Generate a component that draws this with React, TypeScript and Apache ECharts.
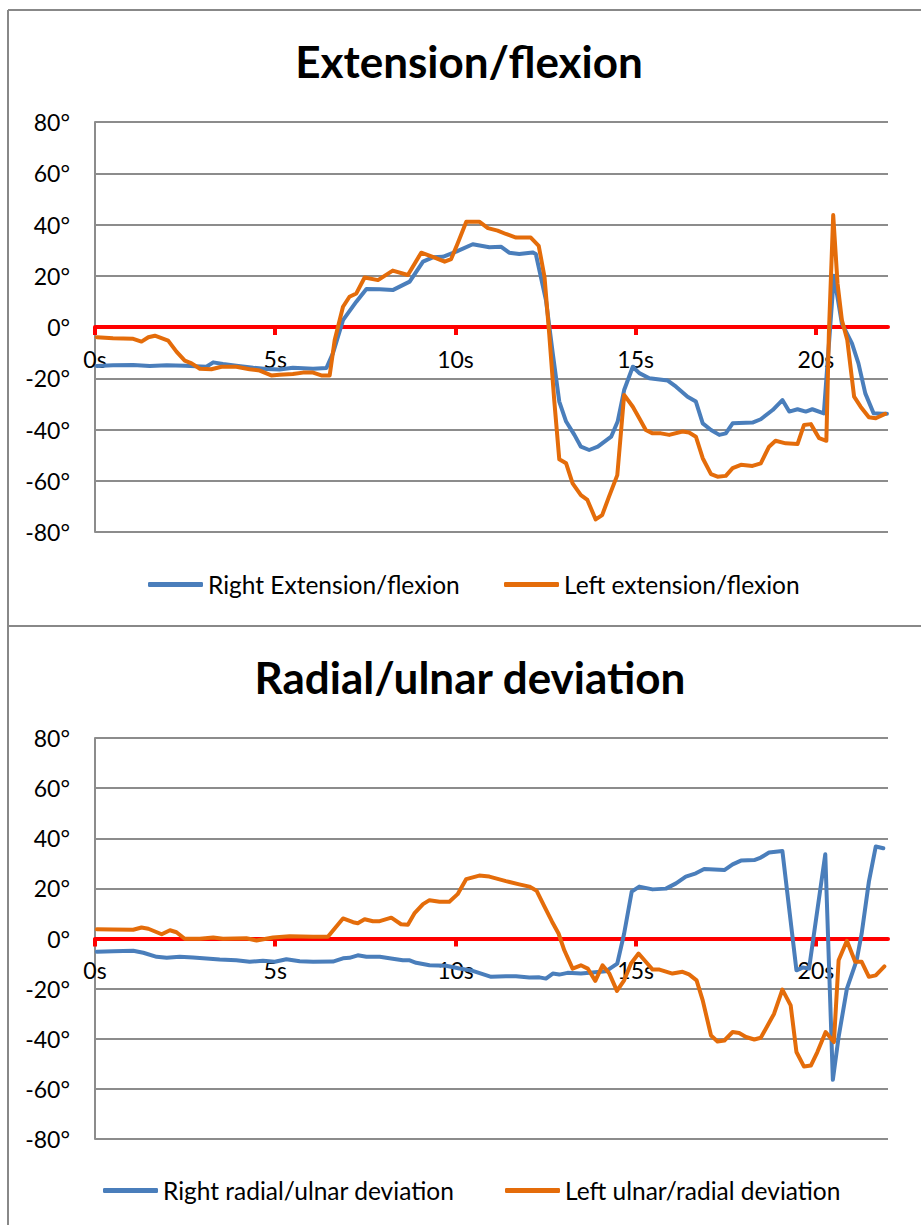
import React, { useEffect, useRef } from "react";
import * as echarts from "echarts";

// ---------- data ----------
const xTickValues = [0, 5, 10, 15, 20];

const extTitle = "Extension/flexion";
const devTitle = "Radial/ulnar deviation";

const rightExtName = "Right Extension/flexion";
const leftExtName = "Left extension/flexion";
const rightDevName = "Right radial/ulnar deviation";
const leftDevName = "Left ulnar/radial deviation";

// Right Extension/flexion (time s, angle °)
const rightExtT = [0.05, 0.5, 1.06, 1.52, 1.99, 2.5, 3.09, 3.28, 3.55, 3.92, 4.39, 4.76, 5.12, 5.49, 6.05, 6.42, 6.6, 6.88, 7.25, 7.53, 7.9, 8.26, 8.73, 9.1, 9.37, 9.65, 10.02, 10.48, 10.94, 11.27, 11.49, 11.77, 12.14, 12.23, 12.51, 12.7, 12.88, 13.07, 13.3, 13.48, 13.71, 13.95, 14.32, 14.5, 14.68, 14.92, 15.1, 15.38, 15.89, 16.12, 16.44, 16.67, 16.86, 17.09, 17.32, 17.5, 17.69, 18.24, 18.47, 18.8, 19.07, 19.26, 19.49, 19.72, 19.9, 20.22, 20.5, 20.72, 21.0, 21.18, 21.37, 21.6, 21.83, 21.97];
const rightExtV = [-15.2, -14.9, -14.8, -15.2, -14.9, -15.1, -15.5, -13.8, -14.4, -15.1, -15.9, -16.4, -16.6, -15.9, -16.3, -16.0, -10.3, 2.7, 9.9, 14.8, 14.7, 14.4, 17.7, 25.5, 27.2, 27.4, 29.4, 32.3, 31.1, 31.3, 29.0, 28.5, 29.1, 28.5, 10.5, -10.3, -29.1, -36.9, -42.1, -46.7, -48.0, -46.7, -42.8, -36.9, -24.6, -15.5, -18.0, -20.0, -20.9, -23.3, -27.2, -29.1, -37.6, -40.2, -42.1, -41.5, -37.6, -37.3, -36.0, -32.4, -28.5, -33.0, -32.1, -33.0, -32.1, -33.7, 20.0, 1.4, -6.4, -14.2, -25.9, -33.7, -33.9, -33.9];

// Left extension/flexion
const leftExtT = [0.05, 0.5, 1.06, 1.29, 1.48, 1.66, 2.03, 2.26, 2.49, 2.68, 2.91, 3.23, 3.51, 3.92, 4.29, 4.57, 4.89, 5.12, 5.49, 5.77, 6.05, 6.28, 6.51, 6.65, 6.88, 7.06, 7.25, 7.48, 7.85, 8.26, 8.68, 9.05, 9.37, 9.7, 9.88, 10.06, 10.3, 10.66, 10.9, 11.17, 11.4, 11.68, 12.09, 12.31, 12.47, 12.6, 12.74, 12.88, 13.07, 13.25, 13.48, 13.66, 13.89, 14.07, 14.26, 14.49, 14.68, 14.92, 15.1, 15.28, 15.47, 15.7, 15.93, 16.3, 16.48, 16.67, 16.86, 17.09, 17.27, 17.5, 17.69, 17.92, 18.24, 18.47, 18.7, 18.88, 19.16, 19.49, 19.67, 19.86, 20.09, 20.29, 20.36, 20.48, 20.6, 20.72, 20.87, 21.06, 21.24, 21.47, 21.66, 21.92];
const leftExtV = [-4.0, -4.4, -4.6, -5.7, -4.0, -3.4, -5.3, -9.6, -13.1, -14.2, -16.3, -16.5, -15.5, -15.5, -16.5, -17.0, -18.9, -18.6, -18.3, -17.8, -17.8, -18.9, -18.9, -5.1, 7.9, 11.8, 13.1, 19.3, 18.3, 22.0, 20.3, 29.0, 27.4, 25.5, 26.5, 32.6, 41.1, 41.1, 38.6, 37.6, 36.3, 34.9, 34.9, 31.7, 19.6, -2.5, -28.5, -51.6, -53.2, -61.0, -65.6, -67.5, -75.1, -73.4, -66.2, -57.8, -26.5, -31.1, -35.6, -40.2, -41.5, -41.5, -42.1, -40.8, -41.2, -42.8, -51.2, -57.4, -58.4, -58.1, -55.1, -53.8, -54.2, -53.2, -46.7, -44.4, -45.4, -45.7, -38.2, -37.9, -43.4, -44.4, -2.5, 43.7, 17.0, 2.7, -5.1, -27.2, -31.1, -35.2, -35.6, -33.9];

// Right radial/ulnar deviation
const rightDevT = [0.05, 0.51, 1.06, 1.34, 1.71, 1.99, 2.35, 2.72, 3.09, 3.46, 3.92, 4.29, 4.66, 4.99, 5.31, 5.68, 6.05, 6.6, 6.88, 7.06, 7.29, 7.53, 7.9, 8.26, 8.54, 8.73, 8.91, 9.28, 9.74, 10.11, 10.48, 10.99, 11.4, 11.68, 12.05, 12.33, 12.51, 12.7, 12.88, 13.11, 13.48, 13.8, 14.17, 14.49, 14.68, 14.89, 15.1, 15.47, 15.84, 16.12, 16.39, 16.67, 16.9, 17.46, 17.69, 17.92, 18.29, 18.47, 18.7, 19.07, 19.46, 19.63, 19.81, 20.26, 20.47, 20.63, 20.86, 21.13, 21.27, 21.47, 21.66, 21.87];
const rightDevV = [-5.3, -5.1, -4.9, -5.7, -7.3, -7.7, -7.3, -7.6, -8.0, -8.4, -8.7, -9.3, -8.9, -9.3, -8.3, -9.1, -9.3, -9.2, -7.9, -7.7, -6.7, -7.3, -7.3, -8.1, -8.7, -8.7, -9.7, -10.7, -10.9, -12.0, -12.9, -15.3, -15.1, -15.1, -15.6, -15.5, -16.0, -14.0, -14.4, -13.7, -14.0, -13.6, -13.1, -10.0, 2.0, 18.7, 20.7, 19.6, 19.9, 22.0, 24.7, 26.0, 27.7, 27.3, 29.6, 31.1, 31.3, 32.3, 34.3, 34.9, -12.7, -11.6, -12.0, 33.6, -56.4, -39.3, -20.0, -8.7, 2.0, 22.7, 36.7, 36.0];

// Left ulnar/radial deviation
const leftDevT = [0.05, 0.51, 1.06, 1.29, 1.48, 1.85, 2.08, 2.26, 2.49, 2.91, 3.28, 3.55, 4.2, 4.48, 4.94, 5.4, 6.05, 6.46, 6.88, 7.16, 7.29, 7.48, 7.71, 7.9, 8.22, 8.49, 8.68, 8.86, 9.1, 9.28, 9.56, 9.83, 10.06, 10.3, 10.66, 10.94, 11.4, 11.77, 12.05, 12.25, 12.47, 12.68, 12.86, 13.02, 13.25, 13.48, 13.67, 13.88, 14.08, 14.27, 14.48, 14.68, 14.87, 15.08, 15.28, 15.47, 15.66, 16.02, 16.3, 16.48, 16.69, 16.86, 17.09, 17.27, 17.46, 17.69, 17.87, 18.06, 18.29, 18.47, 18.66, 18.84, 19.07, 19.3, 19.46, 19.67, 19.86, 20.04, 20.27, 20.5, 20.63, 20.86, 21.09, 21.27, 21.47, 21.66, 21.9];
const leftDevV = [3.7, 3.6, 3.5, 4.4, 3.9, 1.7, 3.3, 2.5, -0.1, -0.1, 0.4, -0.1, 0.1, -0.8, 0.4, 0.9, 0.7, 0.7, 8.0, 6.5, 6.1, 7.7, 6.9, 6.9, 8.3, 5.7, 5.5, 10.0, 13.7, 15.3, 14.7, 14.7, 17.7, 23.7, 25.1, 24.7, 22.9, 21.6, 20.7, 19.1, 12.7, 6.7, 2.0, -4.7, -12.0, -10.7, -12.0, -16.9, -10.7, -14.0, -20.9, -16.7, -10.0, -6.0, -9.3, -12.4, -12.4, -14.0, -13.3, -14.3, -16.7, -24.7, -38.7, -41.1, -40.7, -37.3, -37.7, -39.3, -40.3, -39.6, -34.7, -30.0, -20.4, -26.7, -45.3, -51.1, -50.7, -45.3, -37.3, -41.3, -8.7, -0.9, -9.3, -9.3, -15.3, -14.7, -11.1];

// ---------- styling ----------
const BLUE = "#4A7EBB";
const ORANGE = "#E46C0A";
const GRID_GRAY = "#8C8C8C";
const FONT = "Lato, 'Open Sans', sans-serif";

const GRIDS = [
  { left: 95, top: 122, width: 793, height: 410 },
  { left: 95, top: 738, width: 793, height: 401 },
];

const pairs = (t: number[], v: number[]) =>
  t.slice(0, Math.min(t.length, v.length)).map((x, i) => [x, v[i]]);

function xAxisFor(gridIndex: number) {
  // the y range is symmetric (-80..80), so zero sits at the middle of the grid
  const g = GRIDS[gridIndex];
  return {
    gridIndex,
    type: "value",
    position: "bottom",
    offset: -g.height / 2,
    min: 0,
    max: 22,
    interval: 5,
    axisLine: { show: true, onZero: false, lineStyle: { color: "#FF0000", width: 4 } },
    axisTick: {
      show: true,
      length: 8,
      customValues: xTickValues,
      lineStyle: { color: "#FF0000", width: 4 },
    },
    axisLabel: {
      customValues: xTickValues,
      formatter: "{value}s",
      color: "#000",
      fontSize: 23,
      fontFamily: FONT,
      margin: 20,
    },
    splitLine: { show: false },
  };
}

function yAxisFor(gridIndex: number) {
  return {
    gridIndex,
    type: "value",
    min: -80,
    max: 80,
    interval: 20,
    axisLine: { show: true, lineStyle: { color: GRID_GRAY, width: 2 } },
    axisTick: { show: false },
    axisLabel: {
      formatter: "{value}°",
      color: "#000",
      fontSize: 23,
      fontFamily: FONT,
      margin: 25,
    },
    splitLine: { show: true, lineStyle: { color: GRID_GRAY, width: 2 } },
  };
}

function lineSeries(name: string, color: string, idx: number, t: number[], v: number[]) {
  return {
    name,
    type: "line",
    xAxisIndex: idx,
    yAxisIndex: idx,
    data: pairs(t, v),
    symbol: "none",
    showSymbol: false,
    smooth: false,
    color,
    lineStyle: { color, width: 4, cap: "round", join: "round" },
    itemStyle: { color },
    emphasis: { disabled: true },
  };
}

function legendFor(name: string, left: number, top: number) {
  return {
    data: [name],
    left,
    top,
    padding: 0,
    itemWidth: 55,
    itemHeight: 5,
    icon: "roundRect",
    selectedMode: false,
    textStyle: { color: "#000", fontSize: 24.5, fontFamily: FONT },
  };
}

export default function App() {
  const ref = useRef<HTMLDivElement>(null);

  useEffect(() => {
    if (!ref.current) return;
    const chart = echarts.init(ref.current, null, { renderer: "svg" });
    const borderStyle = { stroke: "#888888", lineWidth: 2 };
    chart.setOption({
      animation: false,
      backgroundColor: "#ffffff",
      grid: GRIDS,
      xAxis: [xAxisFor(0), xAxisFor(1)],
      yAxis: [yAxisFor(0), yAxisFor(1)],
      legend: [
        legendFor(rightExtName, 148, 572),
        legendFor(leftExtName, 504, 572),
        legendFor(rightDevName, 103, 1178),
        legendFor(leftDevName, 505, 1178),
      ],
      series: [
        lineSeries(rightExtName, BLUE, 0, rightExtT, rightExtV),
        lineSeries(leftExtName, ORANGE, 0, leftExtT, leftExtV),
        lineSeries(rightDevName, BLUE, 1, rightDevT, rightDevV),
        lineSeries(leftDevName, ORANGE, 1, leftDevT, leftDevV),
      ],
      graphic: [
        { type: "line", shape: { x1: 8, y1: 10, x2: 921, y2: 10 }, style: borderStyle, silent: true },
        { type: "line", shape: { x1: 8, y1: 10, x2: 8, y2: 1225 }, style: borderStyle, silent: true },
        { type: "line", shape: { x1: 8, y1: 626, x2: 921, y2: 626 }, style: borderStyle, silent: true },
        {
          type: "text",
          x: 469,
          y: 61,
          style: {
            text: extTitle,
            align: "center",
            verticalAlign: "middle",
            fill: "#000",
            font: `bold 44px ${FONT}`,
          },
          silent: true,
        },
        {
          type: "text",
          x: 470,
          y: 677,
          style: {
            text: devTitle,
            align: "center",
            verticalAlign: "middle",
            fill: "#000",
            font: `bold 44px ${FONT}`,
          },
          silent: true,
        },
      ],
    });
    return () => chart.dispose();
  }, []);

  return (
    <div
      ref={ref}
      style={{ position: "absolute", left: 0, top: 0, width: 921, height: 1225, background: "#fff" }}
    />
  );
}
